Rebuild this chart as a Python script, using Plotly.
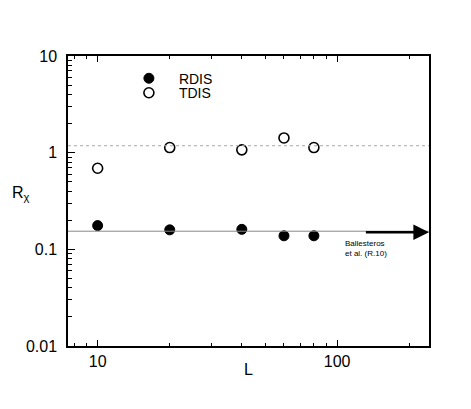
import math
import plotly.graph_objects as go

# datos
L_vals = [10, 20, 40, 60, 80]
rdis = [0.176, 0.159, 0.161, 0.138, 0.138]
tdis = [0.69, 1.13, 1.07, 1.42, 1.13]

tdis_ref = 1.18      # línea punteada
rdis_ref = 0.154     # línea continua
ball_val = 0.150     # flecha Ballesteros et al.
ball_from = 130

x_major = [10, 100]
x_minor = [8, 9, 20, 30, 40, 50, 60, 70, 80, 90, 200]
y_major = [0.01, 0.1, 1, 10]
y_major_txt = ["0.01", "0.1", "1", "10"]
y_minor = [m * d for d in (0.01, 0.1, 1) for m in range(2, 10)]

fuente = "Liberation Sans, Arial, sans-serif"

fig = go.Figure()

fig.add_trace(go.Scatter(
    x=L_vals, y=rdis, mode="markers", name="RDIS", legend="legend",
    marker=dict(symbol="circle", size=10, color="black",
                line=dict(color="black", width=1))
))
fig.add_trace(go.Scatter(
    x=L_vals, y=tdis, mode="markers", name="TDIS", legend="legend2",
    marker=dict(symbol="circle-open", size=10, color="black",
                line=dict(color="black", width=1.6))
))

# líneas de referencia
fig.add_shape(type="line", xref="paper", x0=0, x1=1, yref="y",
              y0=tdis_ref, y1=tdis_ref,
              line=dict(color="#aaaaaa", width=1, dash="dot"))
fig.add_shape(type="line", xref="paper", x0=0, x1=1, yref="y",
              y0=rdis_ref, y1=rdis_ref,
              line=dict(color="#888888", width=1))

# flecha
fig.add_annotation(
    x=math.log10(242), y=math.log10(ball_val), xref="x", yref="y",
    ax=math.log10(ball_from), ay=math.log10(ball_val), axref="x", ayref="y",
    showarrow=True, arrowhead=2, arrowsize=1.2, arrowwidth=2.6,
    arrowcolor="black", text=""
)
fig.add_annotation(
    x=0.762, y=math.log10(ball_val) - 0.17, xref="paper", yref="y",
    xanchor="left", yanchor="middle", align="left", showarrow=False,
    text="Ballesteros<br>et al. (R.10)",
    font=dict(family=fuente, size=8, color="black")
)

# títulos de ejes
fig.add_annotation(
    x=-0.16, y=0.525, xref="paper", yref="paper", showarrow=False,
    text="R<sub>χ</sub>", font=dict(family=fuente, size=16, color="black")
)
fig.add_annotation(
    x=0.5, y=-0.08, xref="paper", yref="paper", showarrow=False,
    yanchor="middle", text="L", font=dict(family=fuente, size=16, color="black")
)

leyenda = dict(xanchor="left", yanchor="top", bgcolor="rgba(0,0,0,0)",
               font=dict(family=fuente, size=14, color="black"), itemwidth=50)

fig.update_layout(
    width=471, height=409,
    margin=dict(l=60, r=50, t=48, b=71),
    paper_bgcolor="white", plot_bgcolor="white",
    font=dict(family=fuente, size=16, color="black"),
    showlegend=True,
    legend=dict(leyenda, x=0.141, y=0.977),
    legend2=dict(leyenda, x=0.141, y=0.927),
    xaxis=dict(
        type="log", range=[math.log10(7.52), math.log10(242)],
        tickvals=x_major, ticktext=["10", "100"],
        ticks="inside", ticklen=6, tickcolor="black", tickwidth=1,
        showline=True, linecolor="black", linewidth=1.5, mirror="ticks",
        showgrid=False, zeroline=False,
        minor=dict(tickvals=x_minor, ticks="inside", ticklen=3,
                   tickcolor="black", showgrid=False),
    ),
    yaxis=dict(
        type="log", range=[-2, 1],
        tickvals=y_major, ticktext=y_major_txt,
        ticks="inside", ticklen=7, tickcolor="black", tickwidth=1,
        showline=True, linecolor="black", linewidth=1.5, mirror=True,
        showgrid=False, zeroline=False, ticklabelstandoff=6,
        minor=dict(tickvals=y_minor, ticks="inside", ticklen=4,
                   tickcolor="black", showgrid=False),
    ),
)

fig.write_html("out.html")
